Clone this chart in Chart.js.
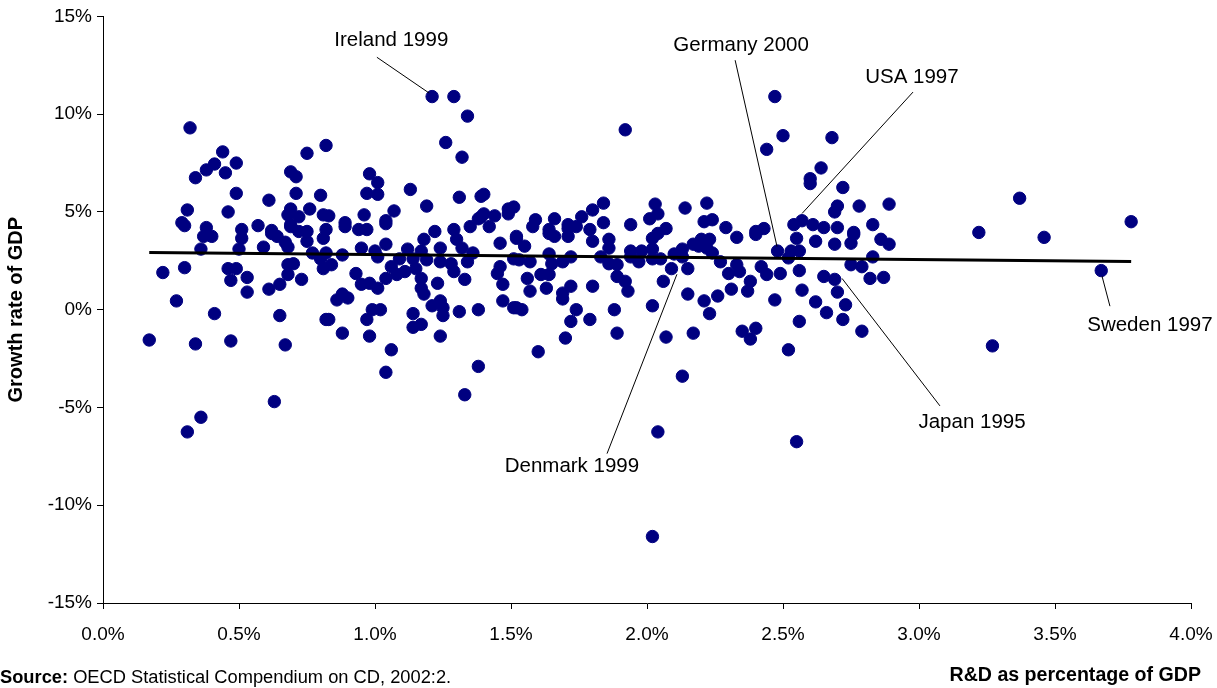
<!DOCTYPE html>
<html>
<head>
<meta charset="utf-8">
<script src="https://cdn.jsdelivr.net/npm/chart.js@4.4.1/dist/chart.umd.min.js"></script>
<style>
  html, body { margin: 0; padding: 0; background: #fff; }
  #wrap { width: 1217px; height: 688px; position: relative; }
</style>
</head>
<body>
<div id="wrap"><canvas id="c" width="1217" height="688"></canvas></div>
<script>
// R&D spending (% of GDP) per country-year
const rdShare = [
  0.32,0.44,0.49,0.41,0.38,0.34,0.45,0.75,0.82,0.69,0.71,0.49,0.71,0.61,0.80,0.31,0.46,0.69,0.76,0.68,
  0.72,0.29,0.30,0.38,0.51,0.57,0.62,0.81,0.69,0.37,0.40,0.36,0.51,0.50,0.62,0.64,0.59,0.67,0.68,0.69,
  0.72,0.75,0.75,0.77,0.81,0.82,0.81,0.22,0.30,0.46,0.49,0.47,0.53,0.53,0.61,0.65,0.68,0.70,0.68,0.73,
  0.27,0.41,0.65,0.82,0.17,0.34,0.47,0.67,0.36,0.31,0.63,
  1.21,1.29,1.34,1.26,1.32,0.98,1.01,1.13,0.97,1.01,1.31,1.40,1.39,1.19,1.07,0.96,1.49,1.51,0.83,0.89,
  1.04,1.40,1.38,1.44,
  0.89,0.94,0.97,1.04,0.82,1.22,1.18,1.29,1.30,1.35,1.39,1.42,1.49,1.46,1.52,0.95,1.04,1.00,1.12,1.17,
  1.24,1.32,1.36,0.80,0.84,0.88,0.93,1.01,1.06,1.09,1.11,1.14,1.15,1.19,1.24,1.28,1.29,1.34,1.33,1.46,
  1.45,1.47,1.51,0.95,0.98,1.01,1.04,1.08,1.17,1.17,1.18,1.23,0.88,0.90,0.86,0.99,1.02,0.97,0.83,1.21,
  1.24,1.25,1.25,1.14,1.31,1.38,1.47,1.51,1.14,1.17,0.88,0.98,1.24,1.06,1.04,1.38,1.33,
  1.92,1.59,1.58,1.66,1.71,1.74,1.76,1.80,1.84,1.84,1.79,1.64,1.94,2.03,2.04,2.01,2.07,2.14,2.22,2.21,
  1.52,1.55,1.64,1.66,1.71,1.71,1.80,1.86,1.86,1.94,1.98,2.02,2.02,2.04,2.13,2.17,2.20,2.22,
  1.53,1.57,1.64,1.65,1.69,1.72,1.83,1.86,1.89,1.94,1.97,2.02,2.05,2.10,2.13,2.09,2.15,
  1.56,1.61,1.64,1.57,1.63,1.69,1.69,1.72,1.80,1.89,1.92,1.93,2.06,2.15,2.21,1.52,1.54,1.74,1.79,1.72,
  1.88,2.02,1.89,2.07,2.17,1.70,1.60,2.13,2.04,2.02,
  2.47,2.50,2.44,2.68,2.64,2.60,2.60,2.72,2.70,2.69,2.78,2.89,2.24,2.29,2.43,2.40,2.54,2.57,2.61,2.65,
  2.70,2.76,2.83,
  2.33,2.23,2.40,2.19,2.55,2.62,2.69,2.75,2.76,2.86,2.89,2.83,2.48,2.53,2.56,2.52,2.75,2.79,2.82,2.87,
  2.65,2.69,2.70,2.73,2.72,2.79,2.66,2.62,2.57,2.56,2.49,2.47,2.56,2.44,2.42,2.38,2.37,2.31,2.26,2.23,
  2.35,2.40,2.38,2.52,2.33,2.30,2.34,2.27,2.24,2.55,
  3.22,3.27,3.37,3.46,3.67,3.78
];

// Real GDP growth (%) for the same country-years
const gdpGrowth = [
  9.3,8.07,7.5,7.45,7.15,6.75,7.0,8.0,8.4,7.05,6.8,5.95,5.95,5.6,5.85,5.1,5.0,5.15,5.15,4.85,
  4.75,4.45,4.3,4.2,4.1,4.3,4.05,4.85,4.35,3.75,3.75,3.1,3.65,3.1,3.9,3.75,3.2,3.45,3.2,4.25,
  4.0,4.0,3.5,2.9,3.65,2.9,2.1,1.9,2.15,2.1,2.1,1.5,1.65,0.9,1.05,1.3,2.3,2.35,1.8,1.55,
  0.45,-0.2,-0.3,-0.5,-1.55,-1.75,-1.6,-1.8,-5.5,-6.25,-4.7,
  10.9,10.9,9.9,8.55,7.8,6.95,6.5,6.15,5.95,5.9,5.75,5.9,5.8,5.3,5.05,4.85,5.15,5.25,4.8,4.45,
  4.55,4.9,4.65,4.8,
  4.25,4.1,4.1,4.4,4.1,4.0,3.6,4.1,3.6,4.25,4.75,4.25,4.9,3.4,3.65,3.15,3.35,3.0,3.1,3.0,
  3.15,3.15,2.9,2.6,2.3,2.8,1.85,2.7,2.2,2.6,1.95,2.6,2.1,2.55,2.45,2.35,1.95,2.45,1.55,2.2,
  1.85,1.3,2.6,1.3,1.35,1.1,1.6,1.8,1.6,1.1,0.8,1.35,0.8,0.6,0.5,0.0,0.0,-0.5,-0.5,0.2,
  0.45,0.1,-0.3,-0.2,-0.1,0.0,0.45,0.1,-0.9,-0.75,-1.2,-1.35,-1.35,-2.05,-3.2,-2.9,-4.35,
  9.2,4.6,4.25,4.65,4.35,4.25,4.75,5.1,5.45,4.45,4.1,4.1,4.35,5.4,4.9,4.65,4.15,5.2,5.45,4.5,
  3.75,3.25,3.9,3.75,4.15,3.75,3.5,3.6,3.15,3.0,3.0,3.1,3.65,3.9,3.1,3.35,3.6,3.15,
  2.55,2.45,2.85,2.35,2.45,2.7,2.7,2.35,2.3,2.7,2.45,2.6,2.6,2.85,2.7,2.1,2.1,
  1.6,1.8,1.8,0.95,1.1,0.85,0.55,1.2,1.2,1.7,1.45,0.95,1.45,0.8,0.45,0.1,0.0,0.0,-0.5,-0.6,
  0.0,0.2,-1.2,-1.4,-1.2,-1.45,-2.15,-3.4,-6.25,-11.6,
  10.9,8.9,8.2,8.8,7.25,6.7,6.45,6.25,5.3,5.0,5.3,5.4,4.6,4.2,4.15,4.0,4.35,4.55,4.35,4.2,
  4.2,3.95,4.35,
  3.7,3.6,3.85,3.25,3.65,3.5,3.35,3.4,3.85,3.6,3.35,2.7,3.0,3.0,3.0,2.65,2.3,2.2,1.6,1.65,
  1.7,1.55,0.9,0.25,-0.5,-1.1,-0.15,0.4,1.0,2.0,1.85,0.5,-0.6,1.8,2.2,1.45,0.95,1.05,0.7,-0.2,
  -1.1,-0.95,-1.5,-2.05,2.3,1.85,1.95,2.45,2.9,-6.75,
  3.95,-1.85,5.7,3.7,2.0,4.5
];

// Linear trend fitted through the cloud
const trendX = [0.17, 3.78];
const trendY = [2.92, 2.47];

// Axis ranges and tick steps
const xTicks = [0, 0.5, 1.0, 1.5, 2.0, 2.5, 3.0, 3.5, 4.0];
const yTicks = [-15, -10, -5, 0, 5, 10, 15];

// Highlighted country-years: label centre, leader line start and end (data units)
const calloutText = ['Ireland 1999', 'Germany 2000', 'USA 1997', 'Japan 1995', 'Denmark 1999', 'Sweden 1997'];
const calloutLabelAt = [[1.06, 13.78], [2.346, 13.52], [2.974, 11.89], [3.195, -5.78], [1.724, -8.02], [3.849, -0.79]];
const calloutLineFrom = [[1.007, 12.91], [2.324, 12.76], [2.978, 11.13], [2.717, 1.60], [1.853, -7.36], [3.673, 1.71]];
const calloutLineTo = [[1.199, 11.08], [2.478, 3.23], [2.570, 4.92], [3.077, -4.92], [2.110, 1.81], [3.702, 0.18]];

const FONT = '"Liberation Sans", Arial, Helvetica, sans-serif';

const points = rdShare.map((x, i) => ({ x, y: gdpGrowth[i] }));
const trend = trendX.map((x, i) => ({ x, y: trendY[i] }));

const decorations = {
  id: 'decorations',
  afterDraw(chart) {
    const ctx = chart.ctx;
    const xs = chart.scales.x, ys = chart.scales.y;
    ctx.save();
    // callout leader lines and labels
    ctx.strokeStyle = '#000';
    ctx.lineWidth = 1;
    ctx.fillStyle = '#000';
    ctx.font = '20.5px ' + FONT;
    ctx.textAlign = 'center';
    ctx.textBaseline = 'middle';
    calloutText.forEach((t, i) => {
      const a = calloutLineFrom[i], b = calloutLineTo[i];
      ctx.beginPath();
      ctx.moveTo(xs.getPixelForValue(a[0]), ys.getPixelForValue(a[1]));
      ctx.lineTo(xs.getPixelForValue(b[0]), ys.getPixelForValue(b[1]));
      ctx.stroke();
      const p = calloutLabelAt[i];
      ctx.fillText(t, xs.getPixelForValue(p[0]), ys.getPixelForValue(p[1]));
    });
    // footer: source note and axis caption
    ctx.textAlign = 'left';
    ctx.font = 'bold 18.3px ' + FONT;
    const srcLabel = 'Source:';
    ctx.fillText(srcLabel, 0, 678);
    const w = ctx.measureText(srcLabel).width;
    ctx.font = '18.3px ' + FONT;
    ctx.fillText(' OECD Statistical Compendium on CD, 2002:2.', w, 678);
    ctx.textAlign = 'right';
    ctx.font = 'bold 19.6px ' + FONT;
    ctx.fillText('R&D as percentage of GDP', 1201, 676);
    ctx.restore();
  }
};

new Chart(document.getElementById('c'), {
  type: 'scatter',
  data: {
    datasets: [
      {
        type: 'line',
        data: trend,
        borderColor: '#000',
        borderWidth: 3,
        pointRadius: 0,
        fill: false,
        order: 0
      },
      {
        data: points,
        backgroundColor: '#000080',
        borderColor: '#000080',
        pointRadius: 6.2,
        pointBorderWidth: 1,
        order: 1
      }
    ]
  },
  options: {
    responsive: false,
    animation: false,
    events: [],
    layout: { padding: { top: 14, right: 26, left: 0, bottom: 0 } },
    plugins: { legend: { display: false }, tooltip: { enabled: false } },
    scales: {
      x: {
        type: 'linear',
        min: xTicks[0],
        max: xTicks[xTicks.length - 1],
        afterBuildTicks: (s) => { s.ticks = xTicks.map(v => ({ value: v })); },
        afterFit: (s) => { s.height = 85; s.paddingLeft = 0; s.paddingRight = 22; },
        grid: { drawOnChartArea: false, drawTicks: true, tickLength: 6, color: '#000' },
        border: { display: true, color: '#000', width: 1 },
        ticks: {
          color: '#000',
          padding: 14,
          maxRotation: 0,
          font: { family: FONT, size: 19 },
          callback: (v) => Number(v).toFixed(1) + '%'
        }
      },
      y: {
        min: yTicks[0],
        max: yTicks[yTicks.length - 1],
        afterBuildTicks: (s) => { s.ticks = yTicks.map(v => ({ value: v })); },
        afterFit: (s) => { s.width = 103; },
        grid: { drawOnChartArea: false, drawTicks: true, tickLength: 6, color: '#000' },
        border: { display: true, color: '#000', width: 1 },
        title: {
          display: true,
          text: 'Growth rate of GDP',
          color: '#000',
          padding: { top: 4, bottom: 0 },
          font: { family: FONT, size: 20, weight: 'bold' }
        },
        ticks: {
          color: '#000',
          padding: 5,
          font: { family: FONT, size: 19 },
          callback: (v) => v + '%'
        }
      }
    }
  },
  plugins: [decorations]
});
</script>
</body>
</html>
